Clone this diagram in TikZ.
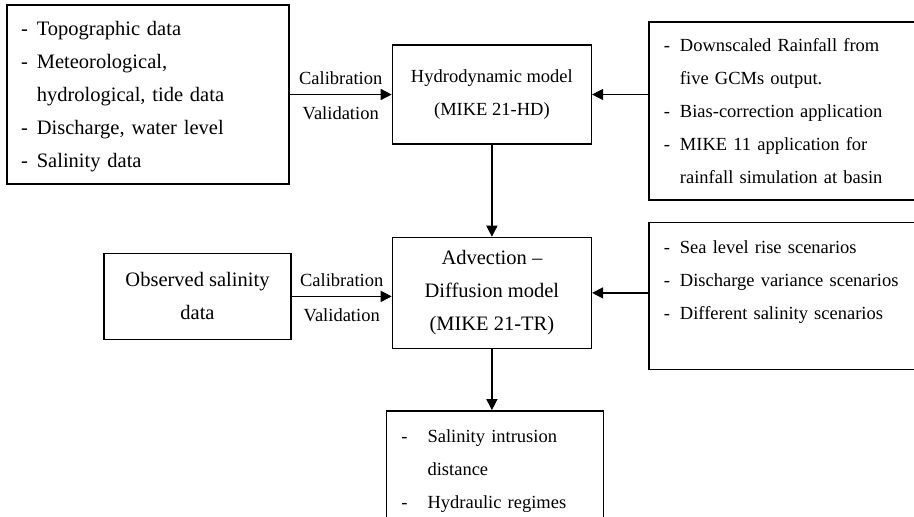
\documentclass[tikz,border=0pt]{standalone}
\usepackage{fontspec}
\setmainfont{Liberation Serif}
\usetikzlibrary{positioning,arrows.meta}

\newcommand{\flowfont}{\fontsize{18.5}{33}\selectfont}
\newcommand{\bigflowfont}{\fontsize{20.5}{33}\selectfont}

\begin{document}
\begin{tikzpicture}[>={Triangle[length=11pt,width=11pt]}, line width=1.4pt,
  modelbox/.style={draw, align=center, font=\flowfont},
  listbox/.style={draw, align=left, font=\flowfont, inner ysep=0pt},
  tag/.style={font=\flowfont, inner sep=3pt}]
\useasboundingbox (0,0) rectangle (914pt,-517pt);
\clip (0,0) rectangle (914pt,-517pt);

% Inputs and models
\node[listbox, font=\bigflowfont, minimum height=179pt, text width=254pt, inner xsep=14pt] (inbox) at (148pt,-94.5pt)
  {\begin{tabular}{@{}l@{\hspace{9pt}}l@{}}
   - & Topographic data\\
   - & Meteorological,\\
     & hydrological, tide data\\
   - & Discharge, water level\\
   - & Salinity data
   \end{tabular}};
\node[modelbox, minimum width=199pt, minimum height=99pt] (hd) [right=102pt of inbox] {Hydrodynamic model\\(MIKE 21-HD)};
\node[listbox, minimum height=178pt, text width=254pt, inner xsep=15pt, yshift=-16.5pt] (rain) [right=56pt of hd]
  {\begin{tabular}{@{}l@{\hspace{10pt}}l@{}}
   - & Downscaled Rainfall from\\
     & five GCMs output.\\
   - & Bias-correction application\\
   - & MIKE 11 application for\\
     & rainfall simulation at basin
   \end{tabular}};
\node[modelbox, font=\bigflowfont, minimum width=199pt, minimum height=111pt] (adv) [below=92pt of hd] {Advection --\\Diffusion model\\(MIKE 21-TR)};
\node[modelbox, font=\bigflowfont, minimum width=187pt, minimum height=86pt, yshift=-3.5pt] (obs) [left=100pt of adv] {Observed salinity\\data};
\node[listbox, minimum height=147pt, text width=254pt, inner xsep=15pt, inner ysep=8pt, yshift=-3pt] (scen) [right=56pt of adv]
  {\begin{tabular}{@{}l@{\hspace{10pt}}l@{}}
   - & Sea level rise scenarios\\
   - & Discharge variance scenarios\\
   - & Different salinity scenarios\\[32pt]
   \end{tabular}};
\node[listbox, text width=187pt, inner xsep=15pt, inner ysep=9pt, xshift=3pt] (out) [below=61pt of adv]
  {\begin{tabular}{@{}l@{\hspace{20pt}}l@{}}
   - & Salinity intrusion\\
     & distance\\
   - & Hydraulic regimes
   \end{tabular}};

% Arrows
\draw [->] (inbox.east) -- (inbox.east -| hd.west)
  node[tag, midway, above=6.5pt] (cal1) {Calibration}
  node[tag, midway, below=8.5pt] (val1) {Validation};
\draw [->] (hd.east -| rain.west) -- (hd.east);
\draw [->] (hd) -- (adv);
\draw [->] (obs.east) -- (obs.east -| adv.west)
  node[tag, midway, above=6.5pt] (cal2) {Calibration}
  node[tag, midway, below=8.5pt] (val2) {Validation};
\draw [->] (adv.east -| scen.west) -- (adv.east);
\draw [->] (adv.south) -- (adv.south |- out.north);

\end{tikzpicture}
\end{document}
